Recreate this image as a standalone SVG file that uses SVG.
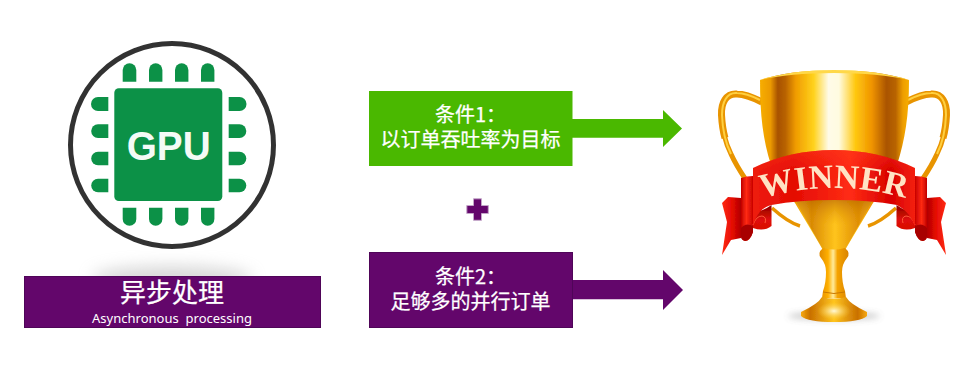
<svg xmlns="http://www.w3.org/2000/svg" width="967" height="379" viewBox="0 0 967 379">
  <style>
    .cjk { font-family: "Noto Sans CJK SC", "Liberation Sans", sans-serif; font-weight: 400; fill: #fff; text-anchor: middle; stroke: #fff; stroke-width: 0.25; }
    .box-green { fill: #4ab800; }
    .box-purple { fill: #63066b; }
    .edge-purple { stroke: #4f0558; stroke-width: 1; }
    .pin { fill: #0c9147; }
  </style>
  <defs>
    <filter id="soft" x="-30%" y="-100%" width="160%" height="300%"><feGaussianBlur stdDeviation="8"/></filter>
    <filter id="softSmall" x="-30%" y="-100%" width="160%" height="300%"><feGaussianBlur stdDeviation="3"/></filter>
    <filter id="ringBlur"><feGaussianBlur stdDeviation="0.5"/></filter>
    <filter id="trophySoft" x="-5%" y="-5%" width="110%" height="110%"><feGaussianBlur stdDeviation="0.4"/></filter>
    <linearGradient id="cupFill" gradientUnits="userSpaceOnUse" x1="760" y1="0" x2="909" y2="0">
      <stop offset="0" stop-color="#f7ae07"/><stop offset="0.07" stop-color="#ec9a00"/>
      <stop offset="0.12" stop-color="#a85200"/><stop offset="0.17" stop-color="#b86200"/>
      <stop offset="0.24" stop-color="#f09c00"/><stop offset="0.36" stop-color="#ffd21c"/>
      <stop offset="0.46" stop-color="#fffbe8"/><stop offset="0.53" stop-color="#fffbe0"/>
      <stop offset="0.64" stop-color="#ffc810"/><stop offset="0.75" stop-color="#f09400"/>
      <stop offset="0.85" stop-color="#aa5400"/><stop offset="0.91" stop-color="#b86400"/>
      <stop offset="0.96" stop-color="#ee9e00"/><stop offset="1" stop-color="#f7ae07"/>
    </linearGradient>
    <linearGradient id="coneFill" gradientUnits="userSpaceOnUse" x1="796" y1="0" x2="874" y2="0">
      <stop offset="0" stop-color="#ffc522"/><stop offset="0.2" stop-color="#d98a05"/>
      <stop offset="0.5" stop-color="#ffc41c"/><stop offset="0.8" stop-color="#e08f05"/>
      <stop offset="1" stop-color="#ffc522"/>
    </linearGradient>
    <linearGradient id="coneShade" x1="0" y1="0" x2="0" y2="1">
      <stop offset="0" stop-color="#b86500" stop-opacity="0.65"/><stop offset="0.5" stop-color="#e09000" stop-opacity="0"/>
    </linearGradient>
    <linearGradient id="stemFill" x1="0" y1="0" x2="1" y2="0">
      <stop offset="0" stop-color="#e08a00"/><stop offset="0.3" stop-color="#ffb000"/>
      <stop offset="0.47" stop-color="#ffeb9a"/><stop offset="0.62" stop-color="#f5a300"/>
      <stop offset="1" stop-color="#d98300"/>
    </linearGradient>
    <linearGradient id="baseFill" x1="0" y1="0" x2="1" y2="0">
      <stop offset="0" stop-color="#f7a90c"/><stop offset="0.14" stop-color="#c97000"/>
      <stop offset="0.5" stop-color="#ffc51e"/><stop offset="0.86" stop-color="#c97000"/>
      <stop offset="1" stop-color="#f7a90c"/>
    </linearGradient>
    <radialGradient id="baseGlow"><stop offset="0" stop-color="#fff8d8"/><stop offset="1" stop-color="#ffd040" stop-opacity="0"/></radialGradient>
    <linearGradient id="bandFill" gradientUnits="userSpaceOnUse" x1="753" y1="0" x2="915" y2="0">
      <stop offset="0" stop-color="#ee1c0c"/><stop offset="0.25" stop-color="#e40c04"/>
      <stop offset="0.6" stop-color="#ff2c14"/><stop offset="0.85" stop-color="#d80000"/>
      <stop offset="1" stop-color="#f42010"/>
    </linearGradient>
    <linearGradient id="bandShade" x1="0" y1="0" x2="0" y2="1">
      <stop offset="0" stop-color="#ff3a1c" stop-opacity="0.5"/><stop offset="0.6" stop-color="#ff3a1c" stop-opacity="0"/>
    </linearGradient>
    <linearGradient id="strip" x1="0" y1="0" x2="1" y2="0">
      <stop offset="0" stop-color="#c00000"/><stop offset="0.45" stop-color="#ff2a12"/><stop offset="1" stop-color="#c80202"/>
    </linearGradient>
    <linearGradient id="tail" x1="0" y1="0" x2="1" y2="0">
      <stop offset="0" stop-color="#ff2c14"/><stop offset="0.55" stop-color="#e40a04"/><stop offset="1" stop-color="#b00000"/>
    </linearGradient>
    <linearGradient id="fold" x1="0" y1="0" x2="0" y2="1">
      <stop offset="0" stop-color="#8a0000"/><stop offset="0.6" stop-color="#e01008"/><stop offset="1" stop-color="#d80a04"/>
    </linearGradient>
    <path id="winnerArc" d="M760,199 Q834,177 908,199"/>
    <g id="ribbonTail">
      <path d="M741,198 L728,197 L722,203 L727,222 L722,255 L731,240 L741,238 Z" fill="url(#tail)"/>
      <path d="M741,178 Q747,176 753,176 L753,232 Q750,241 745,241 Q741,240 741,236 Z" fill="url(#strip)"/>
      <path d="M741,228 Q746,222 753,226 L753,232 Q750,241 745,241 Q741,240 741,236 Z" fill="#a80404"/>
      <path d="M753,212 Q762,212 771.500,205 L771.500,226 Q764,232 753,228 Z" fill="url(#fold)"/>
      <path d="M753,225 Q756,216 762,216 Q767,217 765,223" fill="none" stroke="#ff5a3c" stroke-width="1"/>
    </g>
    <g id="trophyHandle" fill="none">
      <path d="M772,208 C782,217 790,223 800,226" stroke="#e89400" stroke-width="3.500"/>
      <path d="M762,102 C752,97 745,94 737,94 C726,93 721,103 721.500,115 C722,130 726,144 731,154 C735,163 740,171 746,180" stroke="#e89400" stroke-width="5"/>
      <path d="M762,102 C752,97 745,94 737,94 C726,93 721,103 721.500,115 C722,124 723,131 725,138" stroke="#e89400" stroke-width="7"/>
      <path d="M760,100 C752,96 745,93 737,93 C727,92 722,102 722,115 C722.500,130 726,144 731,154" stroke="#ffd040" stroke-width="2"/>
    </g>
  </defs>

  <!-- processor badge -->
  <g id="gpu-node">
    <circle cx="172" cy="145" r="101.500" fill="#fff" stroke="#333" stroke-width="5" filter="url(#ringBlur)"/>
    <rect x="114.300" y="88.300" width="108" height="112.700" rx="4.500" class="pin"/>
    <g class="pin">
      <path d="M122.700,81.700V70a6.800,6.800 0 0 1 13.600,0V81.700Z"/>
      <path d="M149,81.700V70a6.700,6.700 0 0 1 13.400,0V81.700Z"/>
      <path d="M175,81.700V70a6.700,6.700 0 0 1 13.400,0V81.700Z"/>
      <path d="M201,81.700V70a6.700,6.700 0 0 1 13.400,0V81.700Z"/>
      <path d="M122.700,207.700V219a6.800,6.800 0 0 0 13.600,0V207.700Z"/>
      <path d="M149,207.700V219a6.700,6.700 0 0 0 13.400,0V207.700Z"/>
      <path d="M175,207.700V219a6.700,6.700 0 0 0 13.400,0V207.700Z"/>
      <path d="M201,207.700V219a6.700,6.700 0 0 0 13.400,0V207.700Z"/>
      <path d="M108.300,97H98a7,7 0 0 0 0,14H108.300Z"/>
      <path d="M108.300,124.300H98a6.800,6.800 0 0 0 0,13.600H108.300Z"/>
      <path d="M108.300,151.700H98a6.800,6.800 0 0 0 0,13.600H108.300Z"/>
      <path d="M108.300,178.700H98a6.800,6.800 0 0 0 0,13.600H108.300Z"/>
      <path d="M228.700,97H239.500a7,7 0 0 1 0,14H228.700Z"/>
      <path d="M228.700,124.300H239.500a6.800,6.800 0 0 1 0,13.600H228.700Z"/>
      <path d="M228.700,151.700H239.500a6.800,6.800 0 0 1 0,13.600H228.700Z"/>
      <path d="M228.700,178.700H239.500a6.800,6.800 0 0 1 0,13.600H228.700Z"/>
    </g>
    <text x="168.700" y="159.500" font-family="'Liberation Sans', sans-serif" font-weight="700" font-size="40" fill="#f4fbf6" text-anchor="middle" textLength="84" lengthAdjust="spacingAndGlyphs">GPU</text>
  </g>

  <!-- caption under the badge -->
  <g id="async-node">
    <ellipse cx="172" cy="278" rx="80" ry="12" fill="#b0b0b0" opacity="0.5" filter="url(#soft)"/>
    <rect x="24.500" y="276.500" width="296" height="51" class="box-purple edge-purple"/>
    <text x="172" y="302" class="cjk" font-size="26">异步处理</text>
    <text x="172" y="322.500" font-family="'Noto Sans', sans-serif" font-size="13" fill="#fff" text-anchor="middle" word-spacing="3.500">Asynchronous processing</text>
  </g>

  <!-- arrows leaving the two condition boxes -->
  <g id="connectors">
    <polygon points="572,119 663,119 663,110 682,128.500 663,147 663,137.700 572,137.700" class="box-green"/>
    <polygon points="573,280 663,280 663,270 683,290 663,310 663,299.300 573,299.300" class="box-purple"/>
  </g>

  <g id="condition-1">
    <rect x="369" y="91" width="203.500" height="75" class="box-green"/>
    <text class="cjk" font-size="20"><tspan x="470.500" y="122">条件1&#xFF1A;</tspan><tspan x="470.500" y="147">以订单吞吐率为目标</tspan></text>
  </g>

  <g id="plus">
    <polygon points="473.500,198.800 481.500,198.800 481.500,205.500 488.300,205.500 488.300,213.500 481.500,213.500 481.500,220.300 473.500,220.300 473.500,213.500 466.800,213.500 466.800,205.500 473.500,205.500" fill="#63066b" stroke="#c3a6c8" stroke-width="1"/>
  </g>

  <g id="condition-2">
    <rect x="369.500" y="252.500" width="203" height="75" class="box-purple edge-purple"/>
    <text class="cjk" font-size="20"><tspan x="470.500" y="284">条件2&#xFF1A;</tspan><tspan x="470.500" y="309">足够多的并行订单</tspan></text>
  </g>

  <!-- trophy: handles, cup, stem and base, then the ribbon on top -->
  <g id="trophy" filter="url(#trophySoft)">
    <ellipse cx="834" cy="316" rx="46" ry="4" fill="#888" opacity="0.45" filter="url(#softSmall)"/>
    <use href="#trophyHandle"/>
    <use href="#trophyHandle" transform="translate(1668,0) scale(-1,1)"/>
    <path d="M760,80 Q790,70 834,70 Q878,70 909,80 C909,115 905,140 897,165 C892,182 882,190 873,203 L845,250 L823,250 L795,203 C786,190 776,182 771,165 C763,140 760,115 760,80 Z" fill="url(#cupFill)"/>
    <path d="M760,80 Q790,70 834,70 Q878,70 909,80 Q878,73 834,73 Q790,73 760,80 Z" fill="#ffd84a"/>
    <path d="M795,200 L873,200 L845,250 L823,250 Z" fill="url(#coneFill)"/>
    <path d="M795,200 L873,200 L845,250 L823,250 Z" fill="url(#coneShade)"/>
    <path d="M823,248 Q834,251 845,248 Q851,253 847,258 Q842,264 842,272 Q842,283 845,291 L846,298 L822,298 L823,291 Q826,283 826,272 Q826,264 821,258 Q817,253 823,248 Z" fill="url(#stemFill)"/>
    <path d="M823,292 Q834,295 845,292" fill="none" stroke="#c97800" stroke-width="1"/>
    <path d="M822,297 Q834,300 846,297 Q850,304 867,312 L867,316 Q860,322 834,322 Q808,322 801,316 L801,312 Q818,304 822,297 Z" fill="url(#baseFill)"/>
    <ellipse cx="834" cy="311" rx="17" ry="9" fill="url(#baseGlow)"/>

    <use href="#ribbonTail"/>
    <use href="#ribbonTail" transform="translate(1668,0) scale(-1,1)"/>
    <path d="M753,168 Q790,150 834,150 Q878,150 915,168 L915,226 Q910,212 897,205 Q870,200 834,200 Q798,200 771.500,205 Q758,208 753,226 Z" fill="url(#bandFill)"/>
    <path d="M753,168 Q790,150 834,150 Q878,150 915,168 L915,185 Q878,165 834,165 Q790,165 753,185 Z" fill="url(#bandShade)"/>
    <text font-family="'Liberation Serif', serif" font-weight="700" font-size="34" fill="#ffe3c4" text-anchor="middle" letter-spacing="0.300"><textPath href="#winnerArc" startOffset="50%">WINNER</textPath></text>
  </g>
</svg>
